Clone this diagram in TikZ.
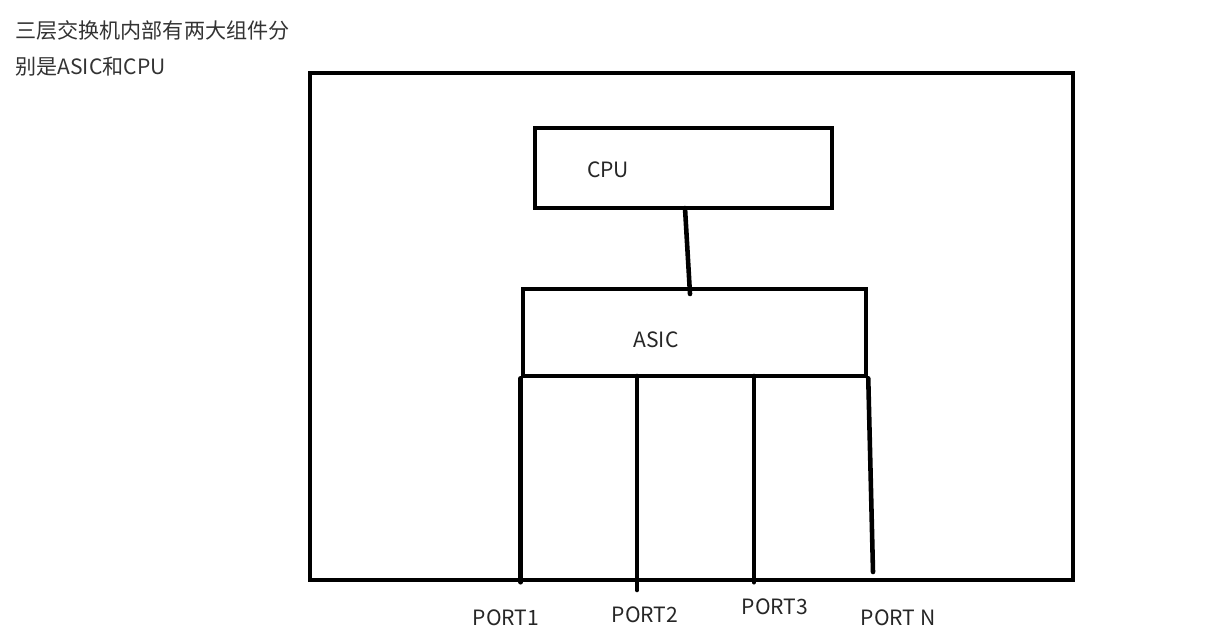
\documentclass[tikz,border=0pt]{standalone}
\usepackage{fontspec}
\setmainfont{Noto Sans CJK SC}
\usepackage{xcolor}
\usepackage{tikz}
\usetikzlibrary{positioning}

\begin{document}
\begin{tikzpicture}[x=0.02cm,y=-0.02cm,
  box/.style={draw,rectangle,line width=2.6pt,inner sep=0pt},
  wire/.style={line width=2.6pt,line cap=round},
  lbl/.style={font=\fontsize{12pt}{14pt}\selectfont,text=black!85,inner sep=0pt},
  note/.style={font=\fontsize{12pt}{14pt}\selectfont,text=black!80,anchor=west,inner sep=0pt}
]
\useasboundingbox (0,0) rectangle (1206,640);

%% Caption text
\node[note] (cap1) at (15,30) {三层交换机内部有两大组件分};
\node[note] (cap2) at (15,67) {别是ASIC和CPU};

%% Switch chassis
\node[box,minimum width=15.26cm,minimum height=10.14cm] (sw) at (691.5,326.5) {};

%% CPU and ASIC
\node[box,minimum width=5.94cm,minimum height=1.6cm] (cpu) at (683.5,168) {};
\node[lbl] (cpulbl) at (608,170) {CPU};
\node[box,minimum width=6.86cm,minimum height=1.74cm] (asic) at (694.5,332.5) {};
\node[lbl] (asiclbl) at (656,340) {ASIC};

%% CPU to ASIC link
\coordinate (cpuout) at (685,208);
\coordinate (asicin) at (690,294);
\draw[wire] (cpuout) -- (asicin);

%% Port lines
\coordinate (p2top) at (637,376);
\coordinate (p3top) at (754,376);
\coordinate (p2end) at (637,590);
\coordinate (pnend) at (873,572);
\draw[wire] (asic.south west) -- (asic.south west |- sw.south);
\draw[wire] (p2top) -- (p2end);
\draw[wire] (p3top) -- (p3top |- sw.south);
\draw[wire] (asic.south east) -- (pnend);

%% Port labels
\node[lbl] (port1) at (506,618) {PORT1};
\node[lbl] (port2) at (645,615) {PORT2};
\node[lbl] (port3) at (775,607) {PORT3};
\node[lbl] (portn) at (898,618) {PORT N};
\end{tikzpicture}
\end{document}
